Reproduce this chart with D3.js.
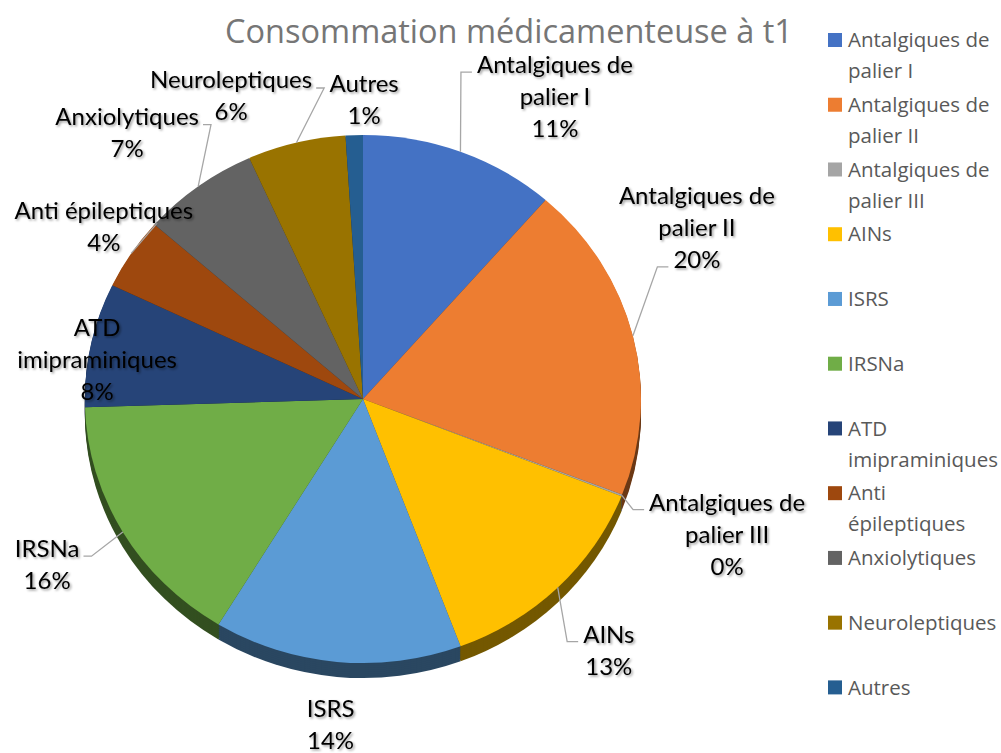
<!DOCTYPE html>
<html>
<head>
<meta charset="utf-8">
<script src="https://cdn.jsdelivr.net/npm/d3@7"></script>
<style>
  body { margin: 0; background: #fff; }
</style>
</head>
<body>
<div id="chart"></div>
<script>
// catégories et parts (%)
const categories = ["Antalgiques de palier I", "Antalgiques de palier II", "Antalgiques de palier III", "AINs", "ISRS", "IRSNa", "ATD imipraminiques", "Anti épileptiques", "Anxiolytiques", "Neuroleptiques", "Autres"];
const values = [11.4, 19.5, 0.1, 13.3, 14.4, 15.8, 7.6, 4.4, 6.8, 5.7, 1.0];
const colors = ["#4472c4", "#ed7d31", "#a5a5a5", "#ffc000", "#5b9bd5", "#70ad47", "#264478", "#9e480e", "#636363", "#997300", "#255e91"];

// placement des étiquettes : décalage d'angle (degrés) et distance relative au rayon
const labelShift = [10.6, -14.5, 0, 1.6, 0, 1.4, -3, 1.6, -3.7, -8.6, 2];
const labelDist = [1.336, 1.365, 1.407, 1.3, 1.24, 1.297, 0.968, 1.139, 1.318, 1.242, 1.133];
// côté du trait de rappel et ligne de texte concernée
const leaderSide = [["left", 0], ["left", 2], ["left", 0], ["left", 0], null, ["right", 0], null, ["below", 0], ["right", 0], ["right", 0], null];

const width = 1001, height = 753;
const cx = 363, cy = 399, rx = 278, ry = 264, depth = 15;
const lineH = 32;

const svg = d3.select("#chart").append("svg")
  .attr("width", width)
  .attr("height", height)
  .style("font-family", "Lato, 'Open Sans', sans-serif");

// ombre des étiquettes
const defs = svg.append("defs");
defs.append("filter").attr("id", "shadow")
  .attr("x", "-10%").attr("y", "-10%").attr("width", "130%").attr("height", "140%")
  .append("feDropShadow")
  .attr("dx", 1.5).attr("dy", 1.5).attr("stdDeviation", 1)
  .attr("flood-color", "#000").attr("flood-opacity", 0.4);

const pie = d3.pie().value(d => d).sort(null);
const arcs = pie(values);
const arc = d3.arc().innerRadius(0).outerRadius(1);

// épaisseur du camembert (faces latérales)
for (let k = depth; k > 0; k -= 2) {
  svg.append("g")
    .attr("transform", `translate(${cx},${cy + k}) scale(${rx},${ry})`)
    .selectAll("path")
    .data(arcs)
    .enter()
    .append("path")
    .attr("d", arc)
    .attr("fill", (d, i) => d3.color(colors[i]).darker(2.2));
}

// face supérieure
svg.append("g")
  .attr("transform", `translate(${cx},${cy}) scale(${rx},${ry})`)
  .selectAll("path")
  .data(arcs)
  .enter()
  .append("path")
  .attr("d", arc)
  .attr("fill", (d, i) => colors[i]);

// point sur le bord de l'ellipse pour un angle (radians, 0 = haut)
function edge(a, r) {
  return [cx + rx * r * Math.sin(a), cy - ry * r * Math.cos(a)];
}

// découpe du texte selon une largeur max
function wrap(text, maxW, measure) {
  const words = text.split(" ");
  const lines = [];
  let cur = "";
  words.forEach(w => {
    const test = cur ? cur + " " + w : w;
    if (cur && measure(test) > maxW) {
      lines.push(cur);
      cur = w;
    } else {
      cur = test;
    }
  });
  lines.push(cur);
  return lines;
}

const labelSize = "24px";
const measureG = svg.append("text").attr("font-size", labelSize);
function measureLabel(s) {
  measureG.text(s);
  return measureG.node().getComputedTextLength();
}

const total = d3.sum(values);
const leaderG = svg.append("g");
const labelG = svg.append("g").attr("filter", "url(#shadow)");

arcs.forEach((d, i) => {
  const mid = (d.startAngle + d.endAngle) / 2;
  const [lx, ly] = edge(mid + labelShift[i] * Math.PI / 180, labelDist[i]);
  const lines = wrap(categories[i], 195, measureLabel);
  lines.push(Math.round(d.value / total * 100) + "%");
  const n = lines.length;
  const centers = lines.map((s, k) => ly + (k - (n - 1) / 2) * lineH);

  const t = labelG.append("text")
    .attr("text-anchor", "middle")
    .attr("font-size", labelSize)
    .attr("fill", "#000");
  lines.forEach((s, k) => {
    t.append("tspan")
      .attr("x", lx)
      .attr("y", centers[k])
      .attr("dy", "0.35em")
      .text(s);
  });

  // trait de rappel
  const spec = leaderSide[i];
  if (spec) {
    const [side, k] = spec;
    const w = measureLabel(lines[k]);
    const p = edge(mid, 1);
    let pts;
    if (side === "left") {
      const x0 = lx - w / 2;
      pts = [[x0 - 5, centers[k] + 7], [x0 - 16, centers[k] + 7], p];
    } else if (side === "right") {
      const x0 = lx + w / 2;
      pts = [[x0 + 4, centers[k] + 8], [x0 + 12, centers[k] + 8], p];
    } else {
      pts = [[p[0] + 26, centers[k] + 13], p];
    }
    leaderG.append("path")
      .attr("d", d3.line()(pts))
      .attr("fill", "none")
      .attr("stroke", "#a6a6a6")
      .attr("stroke-width", 1.3);
  }
});
measureG.remove();

// titre (avec fond blanc qui masque le haut de la première étiquette)
svg.append("rect")
  .attr("x", 215).attr("y", 0)
  .attr("width", 590).attr("height", 53)
  .attr("fill", "#fff");
svg.append("text")
  .attr("x", 509)
  .attr("y", 43)
  .attr("text-anchor", "middle")
  .style("font-family", "'Open Sans', sans-serif")
  .style("font-size", "32.5px")
  .attr("fill", "#767676")
  .text("Consommation médicamenteuse à t1");

// légende
const legendX = 828, legendY = 40, legendStep = 64.74;
const legendSize = "20.5px";
const legendMeasure = svg.append("text")
  .style("font-family", "'Open Sans', sans-serif")
  .style("font-size", legendSize);
function measureLegend(s) {
  legendMeasure.text(s);
  return legendMeasure.node().getComputedTextLength();
}

const legend = svg.selectAll(".legend")
  .data(categories)
  .enter()
  .append("g")
  .attr("class", "legend")
  .attr("transform", (d, i) => `translate(${legendX},${legendY + i * legendStep})`);

legend.append("rect")
  .attr("x", 0)
  .attr("y", -7)
  .attr("width", 14)
  .attr("height", 14)
  .attr("fill", (d, i) => colors[i]);

legend.append("text")
  .style("font-family", "'Open Sans', sans-serif")
  .style("font-size", legendSize)
  .attr("fill", "#595959")
  .each(function (d) {
    const lines = wrap(d, 154, measureLegend);
    lines.forEach((s, k) => {
      d3.select(this).append("tspan")
        .attr("x", 20)
        .attr("y", k * 31)
        .attr("dy", "0.35em")
        .text(s);
    });
  });
legendMeasure.remove();
</script>
</body>
</html>
